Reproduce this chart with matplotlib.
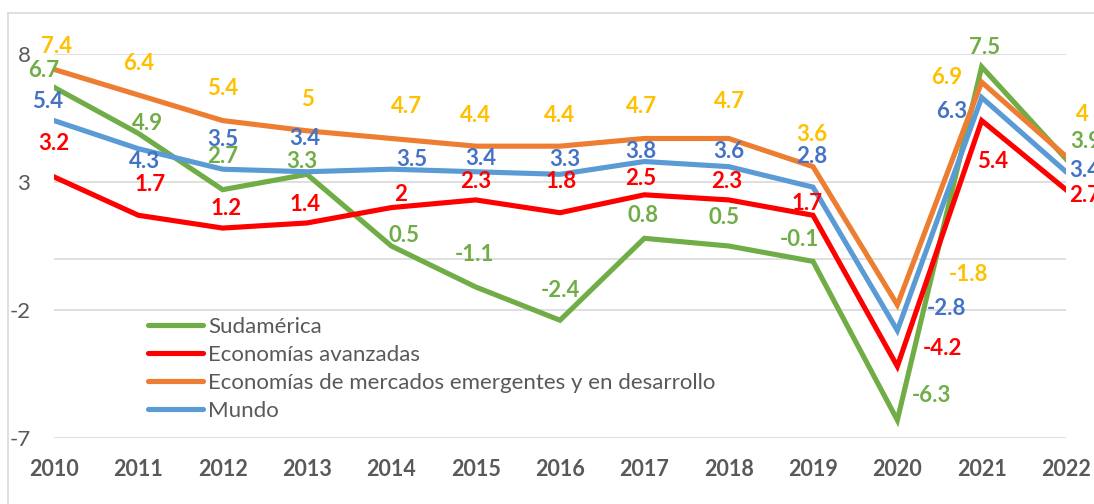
import matplotlib
matplotlib.use("Agg")
import matplotlib.pyplot as plt
from matplotlib.lines import Line2D

# ---------------------------------
# Data
# ---------------------------------

years = [2010, 2011, 2012, 2013, 2014, 2015, 2016, 2017, 2018, 2019, 2020, 2021, 2022]

sudamerica = [6.7, 4.9, 2.7, 3.3, 0.5, -1.1, -2.4, 0.8, 0.5, -0.1, -6.3, 7.5, 3.9]
avanzadas = [3.2, 1.7, 1.2, 1.4, 2, 2.3, 1.8, 2.5, 2.3, 1.7, -4.2, 5.4, 2.7]
emergentes = [7.4, 6.4, 5.4, 5, 4.7, 4.4, 4.4, 4.7, 4.7, 3.6, -1.8, 6.9, 4]
mundo = [5.4, 4.3, 3.5, 3.4, 3.5, 3.4, 3.3, 3.8, 3.6, 2.8, -2.8, 6.3, 3.4]

labels = [
    "Sudamérica",
    "Economías avanzadas",
    "Economías de mercados emergentes y en desarrollo",
    "Mundo",
]

y_ticks = [-7, -2, 3, 8]

# ---------------------------------
# Style
# ---------------------------------

line_colors = ["#70AD47", "#FF0000", "#ED7D31", "#5B9BD5"]
label_colors = ["#70AD47", "#FF0000", "#FFC000", "#4472C4"]
GRID = "#D9D9D9"
TEXT = "#595959"

# label offsets in pixels (dx right, dy down) as placed in the original
off_sud = [(-10, -17), (9, -10), (0, -33), (-5, -13), (13, -10), (-1, -32), (0, -30),
           (-1, -23), (-5, -29), (-14, -22), (34, -25), (3, -19), (20, -17)]
off_ava = [(0, -33), (12, -31), (3, -20), (-2, -18), (9, -13), (0, -18), (1, -31),
           (-4, -16), (-2, -18), (-6, -12), (45, -18), (11, 41), (19, 6)]
off_eme = [(3, -23), (0, -31), (0, -32), (0, -31), (15, -32), (0, -31), (0, -31),
           (-3, -32), (1, -37), (-1, -32), (71, -30), (-35, -5), (16, -42)]
off_mun = [(-6, -19), (6, 13), (0, -30), (-2, -33), (20, -10), (5, -13), (5, -15),
           (-3, -10), (0, -15), (-1, -31), (49, -22), (-30, 14), (19, -1)]

plt.rcParams["font.family"] = ["Lato", "DejaVu Sans"]
plt.rcParams["axes.unicode_minus"] = False

fig = plt.figure(figsize=(10.94, 5.04), dpi=100)
ax = fig.add_axes([54 / 1094, 1 - 438 / 504, (1066 - 54) / 1094, (438 - 54) / 504])

series = [sudamerica, avanzadas, emergentes, mundo]
offsets = [off_sud, off_ava, off_eme, off_mun]

for vals, lc, name in zip(series, line_colors, labels):
    ax.plot(years, vals, color=lc, linewidth=3.7, label=name,
            solid_joinstyle="miter", zorder=3)

for vals, tc, offs in zip(series, label_colors, offsets):
    for x, v, (dx, dy) in zip(years, vals, offs):
        ax.annotate(f"{v:g}", (x, v), xytext=(dx, -dy), textcoords="offset pixels",
                    ha="center", va="center", color=tc, fontsize=16,
                    fontweight="bold", annotation_clip=False, zorder=4)

# ---------------------------------
# Axes
# ---------------------------------

ax.set_xlim(years[0], years[-1])
ax.set_ylim(-7, 8)
ax.set_yticks(y_ticks)
ax.set_xticks(years)
ax.yaxis.grid(True, color=GRID, linewidth=1.2)
ax.axhline(0, color=GRID, linewidth=1.2, zorder=1)
ax.set_axisbelow(True)
for s in ax.spines.values():
    s.set_visible(False)
ax.tick_params(axis="both", length=0)
ax.tick_params(axis="y", pad=17, labelsize=16, labelcolor=TEXT)
ax.tick_params(axis="x", pad=15, labelsize=15.5, labelcolor=TEXT)
for t in ax.get_xticklabels():
    t.set_fontweight("bold")

leg = ax.legend(loc="upper left", bbox_to_anchor=(148 / 1094, 1 - 317 / 504),
                bbox_transform=fig.transFigure, frameon=False, fontsize=16,
                handlelength=2.48, handletextpad=0.22, labelspacing=0.36,
                borderpad=0, borderaxespad=0)
for t in leg.get_texts():
    t.set_color(TEXT)
for h in leg.get_lines():
    h.set_linewidth(3.7)
    h.set_solid_capstyle("round")

# chart border
fig.add_artist(Line2D([8 / 1094, 8 / 1094], [0, 1 - 13 / 504], color=GRID,
                      linewidth=1.2, transform=fig.transFigure))
fig.add_artist(Line2D([8 / 1094, 1], [1 - 13 / 504, 1 - 13 / 504], color=GRID,
                      linewidth=1.2, transform=fig.transFigure))

fig.savefig("out.png", dpi=100)
